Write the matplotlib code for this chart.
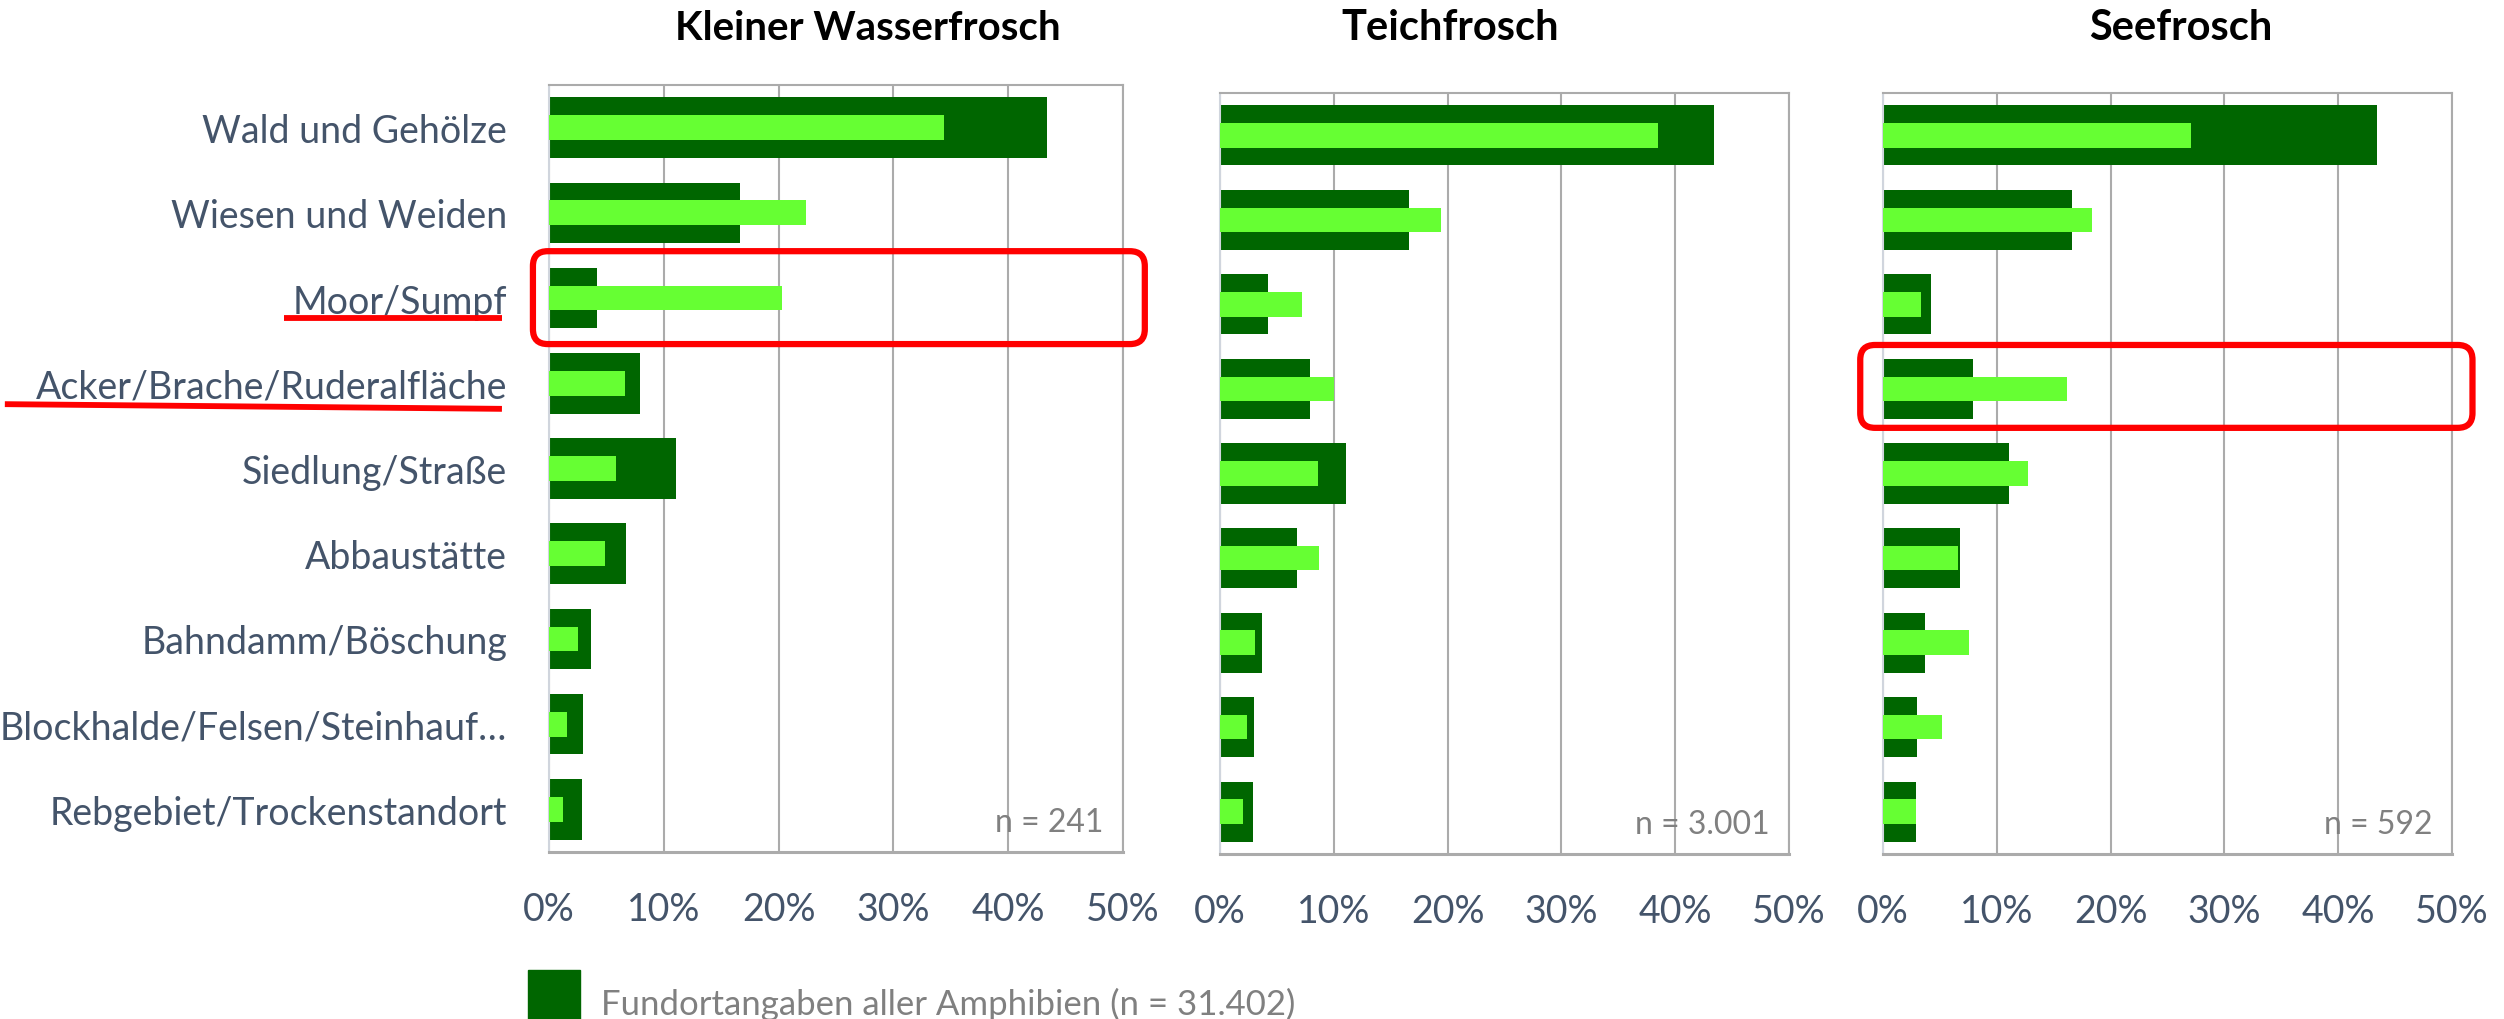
import numpy as np
import matplotlib.pyplot as plt
from matplotlib.patches import FancyBboxPatch, Patch

plt.rcParams['font.family'] = ['Lato', 'DejaVu Sans']

habitats = ["Wald und Gehölze", "Wiesen und Weiden", "Moor/Sumpf",
            "Acker/Brache/Ruderalfläche", "Siedlung/Straße", "Abbaustätte",
            "Bahndamm/Böschung", "Blockhalde/Felsen/Steinhauf…",
            "Rebgebiet/Trockenstandort"]

# share of all amphibian records (%), same reference bar in every panel
all_amphibians = [43.4, 16.6, 4.2, 7.9, 11.1, 6.75, 3.7, 3.0, 2.9]

species = ["Kleiner Wasserfrosch", "Teichfrosch", "Seefrosch"]
sample_sizes = ["n = 241", "n = 3.001", "n = 592"]

kleiner_wasserfrosch = [34.4, 22.4, 20.3, 6.6, 5.8, 4.9, 2.5, 1.6, 1.2]
teichfrosch = [38.5, 19.4, 7.2, 10.0, 8.6, 8.7, 3.1, 2.4, 2.0]
seefrosch = [27.1, 18.4, 3.3, 16.2, 12.7, 6.6, 7.6, 5.2, 2.9]

xticks = [0, 10, 20, 30, 40, 50]
legend_label = "Fundortangaben aller Amphibien (n = 31.402)"

DARK = "#006600"
LIGHT = "#66FF33"
GRID = "#ABABAB"
TEXT = "#44546A"
GREY = "#808080"

W, H = 2504, 1020
fig = plt.figure(figsize=(W / 100, H / 100), dpi=100)

# axes boxes in pixels: left, top, right, bottom
boxes = [(549, 86, 1123, 853), (1220, 94, 1789, 855), (1883, 94, 2452, 855)]
title_x = [868, 1450, 2181]
title_size = [29, 30, 30]

axes = []
y = np.arange(len(habitats))
for i, (vals, box) in enumerate(zip([kleiner_wasserfrosch, teichfrosch, seefrosch], boxes)):
    l, t, r, b = box
    ax = fig.add_axes([l / W, 1 - b / H, (r - l) / W, (b - t) / H])
    ax.barh(y, all_amphibians, height=0.71, color=DARK, zorder=2)
    ax.barh(y, vals, height=0.29, color=LIGHT, zorder=3)
    ax.set_xlim(0, 50)
    ax.set_ylim(len(habitats) - 0.5, -0.5)
    ax.set_xticks(xticks)
    ax.set_xticklabels([f"{v}%" for v in xticks], fontsize=27, color=TEXT)
    ax.set_yticks(y)
    if i == 0:
        ax.set_yticklabels(habitats, fontsize=27, color=TEXT)
    else:
        ax.set_yticklabels([])
    ax.tick_params(axis='x', length=0, pad=28)
    ax.tick_params(axis='y', length=0, pad=30)
    ax.grid(axis='x', color=GRID, lw=1.5, zorder=0)
    ax.set_axisbelow(True)
    for s in ['top', 'right']:
        ax.spines[s].set_color(GRID)
        ax.spines[s].set_linewidth(1.5)
    ax.spines['bottom'].set_color(GRID)
    ax.spines['bottom'].set_linewidth(2.2)
    ax.spines['left'].set_color("#D0D5DD")
    ax.spines['left'].set_linewidth(1.5)
    ax.text(48.3, 8.15, sample_sizes[i], ha='right', va='center', fontsize=23, color=GREY, zorder=4)
    fig.text(title_x[i] / W, 1 - 28 / H, species[i], ha='center', va='center',
             fontsize=title_size[i], fontweight='bold', color='black')
    axes.append(ax)

# red highlights
ax1, ax3 = axes[0], axes[2]
ax1.add_patch(FancyBboxPatch((-1.4, 1.45), 53.3, 1.09,
                             boxstyle="round,pad=0,rounding_size=1.3", mutation_aspect=0.1345,
                             fill=False, ec='red', lw=4.5, clip_on=False, zorder=5))
ax3.add_patch(FancyBboxPatch((-2.0, 2.48), 53.8, 0.98,
                             boxstyle="round,pad=0,rounding_size=1.3", mutation_aspect=0.1345,
                             fill=False, ec='red', lw=4.5, clip_on=False, zorder=5))
ax1.plot([-23.1, -4.1], [2.235, 2.235], color='red', lw=4.2, clip_on=False, solid_capstyle='butt')
ax1.plot([-47.4, -4.1], [3.245, 3.30], color='red', lw=4.2, clip_on=False, solid_capstyle='butt')

# legend square runs off the bottom edge like in the source image
fig.legend(handles=[Patch(color=DARK)], labels=[legend_label], loc='lower left',
           bbox_to_anchor=(528 / W, -18 / H), frameon=False, fontsize=25,
           labelcolor=GREY, handlelength=1.5, handleheight=2.6, handletextpad=0.6,
           borderpad=0, borderaxespad=0)

fig.savefig("out.png", dpi=100)
